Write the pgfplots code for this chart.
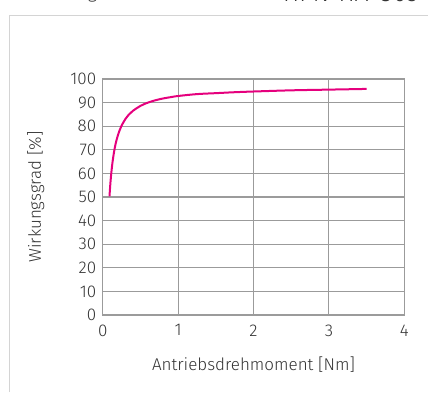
\documentclass[border=0pt]{standalone}
\usepackage{fontspec}
\setmainfont{Fira Sans}[UprightFont=* Light]
\usepackage{pgfplots}
\pgfplotsset{compat=1.18}
\definecolor{curve}{HTML}{E5007D}
\definecolor{gridgray}{HTML}{9B9B9B}
\definecolor{framegray}{HTML}{D4D4D4}
\definecolor{txt}{HTML}{333333}
\begin{document}
\begin{tikzpicture}
\begin{axis}[
  name=ax,
  scale only axis, width=301.6pt, height=236pt,
  xmin=0, xmax=4, ymin=0, ymax=100,
  xtick={0,1,2,3,4}, ytick={0,10,...,100},
  grid=major,
  major grid style={gridgray, line width=1.1pt},
  axis line style={gridgray, line width=1.1pt},
  tick style={draw=none}, major tick length=0pt,
  /pgf/number format/assume math mode=true,
  ticklabel style={font=\fontsize{17}{20}\selectfont, text=txt},
  yticklabel style={xshift=-3pt},
  xticklabel style={yshift=-6pt},
  xlabel={Antriebsdrehmoment [Nm]},
  ylabel={Wirkungsgrad [\%]},
  every axis x label/.style={at={(axis description cs:0.5,-0.212)}, anchor=center,
    font=\fontsize{17}{20}\selectfont, text=txt},
  every axis y label/.style={at={(axis description cs:-0.222,0.5)}, anchor=center, rotate=90,
    font=\fontsize{17}{20}\selectfont, text=txt},
]
\addplot[curve, line width=2pt, smooth, tension=0.6] coordinates {
  (0.09,50.3) (0.10,55) (0.11,58.8) (0.125,63.4) (0.14,67) (0.16,70.8)
  (0.18,73.7) (0.20,76) (0.225,78.3) (0.25,80.2) (0.30,83) (0.35,85)
  (0.40,86.5) (0.50,88.6) (0.60,90) (0.70,91) (0.80,91.75) (0.90,92.3)
  (1.00,92.8) (1.25,93.6) (1.50,94.0) (1.75,94.4) (2.00,94.7) (2.50,95.2)
  (3.00,95.5) (3.50,95.8)
};
\end{axis}
% page corner relative to the plot area
\path (ax.south west) ++(-102.7pt,-77pt) coordinate (O);
\begin{scope}[shift={(O)}, x=1pt, y=1pt]
\useasboundingbox (0,0) rectangle (428,392);
% page frame and header, cut by the page edge
\draw[framegray, line width=1.5pt] (9.5,0) -- (9.5,376.5) -- (428,376.5);
\node[anchor=base west, font=\fontsize{24}{28}\selectfont, text=txt, inner sep=0] at (283,390.5) {HPN-HA-U05};
\node[anchor=base east, font=\fontsize{18}{22}\selectfont, text=txt, inner sep=0] at (97,394) {Leistung};
\end{scope}
\end{tikzpicture}
\end{document}
